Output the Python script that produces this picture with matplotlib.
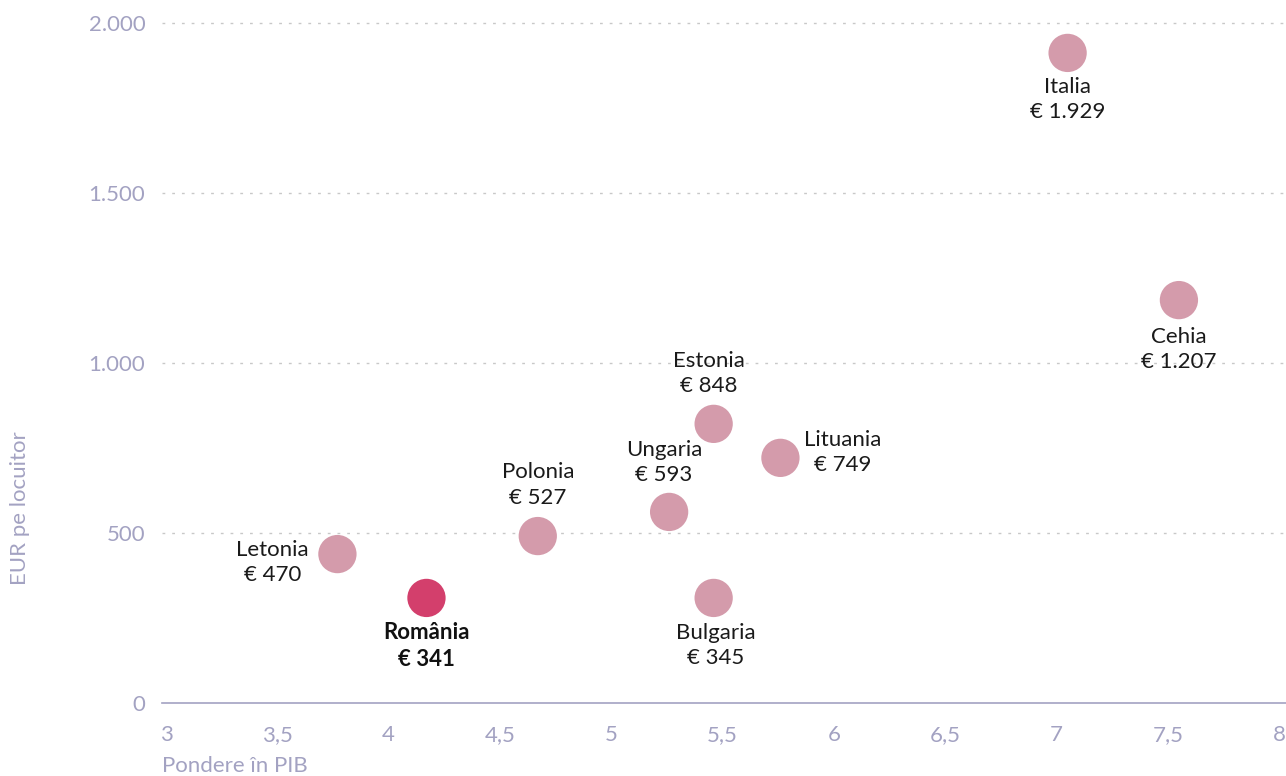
import matplotlib
matplotlib.use('Agg')
import matplotlib.pyplot as plt
from matplotlib.ticker import FuncFormatter

# ==============================
# Data
# ==============================
countries = ['Italia', 'Cehia', 'Estonia', 'Lituania', 'Ungaria',
             'Polonia', 'Letonia', 'România', 'Bulgaria']
pondere_pib = [7.05, 7.55, 5.46, 5.76, 5.26, 4.67, 3.77, 4.17, 5.46]
eur_locuitor = [1912, 1185, 821, 721, 562, 491, 438, 309, 309]
value_labels = ['€ 1.929', '€ 1.207', '€ 848', '€ 749', '€ 593',
                '€ 527', '€ 470', '€ 341', '€ 345']
highlight = 'România'

# label placement (offset of text block centre, in pixels)
label_offsets = {
    'Italia': (0, -47), 'Cehia': (0, -49), 'Estonia': (-5, 50),
    'Lituania': (62, 5), 'Ungaria': (-5, 49), 'Polonia': (0, 51),
    'Letonia': (-65, -8), 'România': (0, -48), 'Bulgaria': (2, -48),
}

x_ticks = [3, 3.5, 4, 4.5, 5, 5.5, 6, 6.5, 7, 7.5, 8]
y_ticks = [0, 500, 1000, 1500, 2000]

# ==============================
# Style
# ==============================
plt.rcParams['font.family'] = ['Lato', 'DejaVu Sans']
axis_color = '#a3a2c2'
pink = '#d49bab'
red = '#d33f6c'

fig = plt.figure(figsize=(12.86, 7.76), dpi=100)
ax = fig.add_axes([162 / 1286, 73 / 776, 1124 / 1286, 700 / 776])

colors = [red if c == highlight else pink for c in countries]
ax.scatter(pondere_pib, eur_locuitor, s=760, c=colors, linewidths=0, zorder=3)

for c, x, y, v in zip(countries, pondere_pib, eur_locuitor, value_labels):
    dx, dy = label_offsets[c]
    ax.annotate(f'{c}\n{v}', (x, y), xytext=(dx, dy), textcoords='offset pixels',
                ha='center', va='center', fontsize=16, linespacing=1.32,
                color='#111111' if c == highlight else '#1a1a1a',
                fontweight='bold' if c == highlight else 'normal', zorder=4)

ax.set_xlim(2.982, 8.031)
ax.set_ylim(0, 2000 * 700 / 680)
ax.set_xticks(x_ticks)
ax.set_yticks(y_ticks)
ax.xaxis.set_major_formatter(FuncFormatter(lambda v, p: f'{v:g}'.replace('.', ',')))
ax.yaxis.set_major_formatter(FuncFormatter(lambda v, p: f'{int(v):,}'.replace(',', '.')))
ax.tick_params(axis='both', length=0, labelsize=16, labelcolor=axis_color)
ax.tick_params(axis='x', pad=16)
ax.tick_params(axis='y', pad=12)

for s in ['top', 'right', 'left']:
    ax.spines[s].set_visible(False)
ax.spines['bottom'].set_color(axis_color)
ax.spines['bottom'].set_linewidth(1.2)

for yt in y_ticks[1:]:
    ax.axhline(yt, color='#c8c8c8', linestyle=(0, (2, 5)), linewidth=1, zorder=1)

fig.text(162 / 1286, 1 - 766 / 776, 'Pondere în PIB', ha='left', va='center',
         fontsize=16, color=axis_color)
fig.text(20 / 1286, 1 - 508 / 776, 'EUR pe locuitor', ha='center', va='center',
         rotation=90, fontsize=16, color=axis_color)

fig.savefig('out.png', dpi=100)
